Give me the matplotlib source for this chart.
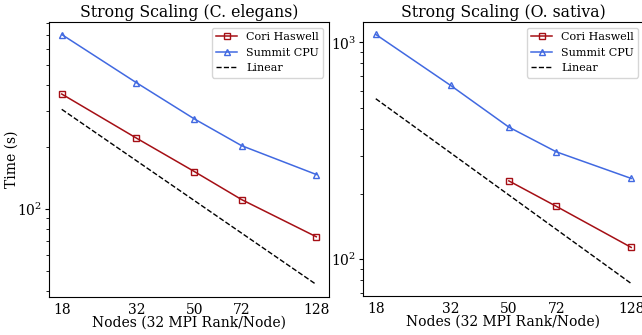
import matplotlib
matplotlib.use("Agg")
import matplotlib.pyplot as plt
from matplotlib.ticker import FixedLocator, FixedFormatter, NullLocator

plt.rcParams['font.family'] = 'serif'
plt.rcParams['font.serif'] = ['DejaVu Serif']
plt.rcParams['mathtext.fontset'] = 'dejavuserif'

nodes = [18, 32, 50, 72, 128]
node_labels = ['18', '32', '50', '72', '128']

# C. elegans timings (s)
ce_cori = [362, 221, 152, 111, 73.2]
ce_summit = [705, 411, 274, 203, 147]
ce_linear_start = 305

# O. sativa timings (s), Cori only ran 50..128
os_nodes_cori = [50, 72, 128]
os_cori = [230, 175.5, 113.5]
os_summit = [1088, 633, 407, 313, 236]
os_linear_start = 550

cori_color = '#a50f15'
summit_color = '#4169e1'


def draw(ax, title, cori_x, cori_y, summit_y, lin_start):
    linear = [lin_start * nodes[0] / n for n in nodes]
    ax.plot(cori_x, cori_y, color=cori_color, marker='s', ms=4, mfc='none',
            lw=1.1, label='Cori Haswell')
    ax.plot(nodes, summit_y, color=summit_color, marker='^', ms=4, mfc='none',
            lw=1.1, label='Summit CPU')
    ax.plot(nodes, linear, 'k--', lw=1, label='Linear')
    ax.set_xscale('log')
    ax.set_yscale('log')
    ax.xaxis.set_major_locator(FixedLocator(nodes))
    ax.xaxis.set_major_formatter(FixedFormatter(node_labels))
    ax.xaxis.set_minor_locator(NullLocator())
    ax.tick_params(axis='x', which='both', length=0, labelsize=10, pad=4.5)
    ax.tick_params(axis='y', which='major', labelsize=10, length=3, pad=2)
    ax.tick_params(axis='y', which='minor', length=2)
    ax.set_title(title, fontsize=11.3, pad=3.5)
    ax.set_xlabel('Nodes (32 MPI Rank/Node)', fontsize=10, labelpad=-1)
    ax.legend(loc='upper right', fontsize=8, handlelength=1.9,
              borderpad=0.4, labelspacing=0.5, framealpha=0.8)


fig = plt.figure(figsize=(6.42, 3.35), dpi=100)
ax1 = fig.add_axes([49 / 642, 38 / 335, 280 / 642, 275 / 335])
ax2 = fig.add_axes([363 / 642, 39 / 335, 281 / 642, 274 / 335])

draw(ax1, 'Strong Scaling (C. elegans)', nodes, ce_cori, ce_summit, ce_linear_start)
ax1.set_ylabel('Time (s)', fontsize=10)
ax1.yaxis.set_label_coords(-0.11, 0.5)
draw(ax2, 'Strong Scaling (O. sativa)', os_nodes_cori, os_cori, os_summit, os_linear_start)

fig.savefig('out.png', dpi=100)
